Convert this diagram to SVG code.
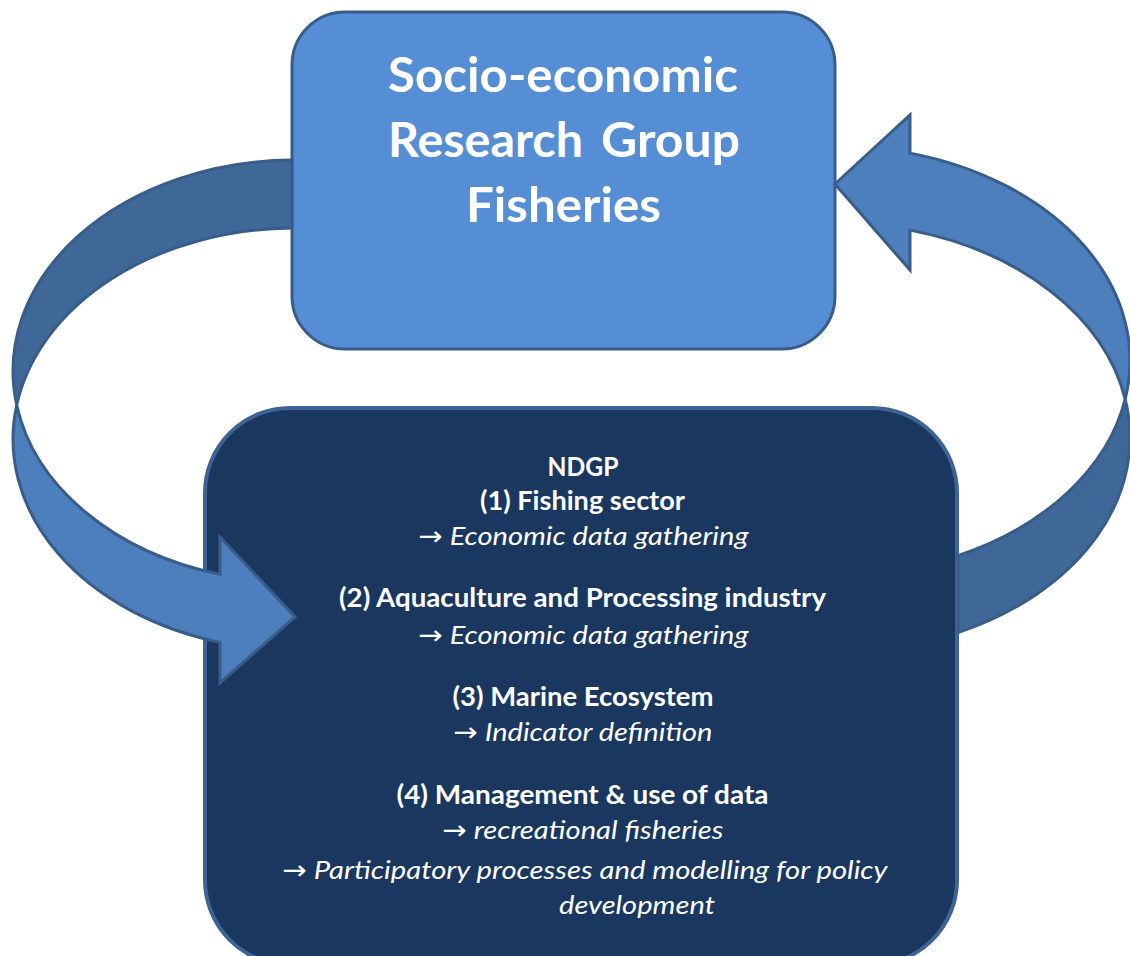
<svg xmlns="http://www.w3.org/2000/svg" width="1130" height="956" viewBox="0 0 1130 956">
  <style>
    .box-top { fill: #558ed5; stroke: #385d8a; stroke-width: 3; }
    .box-bot { fill: #1a375f; stroke: #3d6494; stroke-width: 4; }
    .back { fill: #3f6797; stroke: #385d8a; stroke-width: 3; stroke-linejoin: miter; }
    .front { fill: #4d7fbc; stroke: #385d8a; stroke-width: 3; stroke-linejoin: miter; }
    .title { font-family: Lato, "Liberation Sans", sans-serif; font-weight: 700; font-size: 47px; fill: #ffffff; }
    .hb { font-family: Lato, "Liberation Sans", sans-serif; font-weight: 700; font-size: 26px; fill: #ffffff; }
    .it { font-family: Lato, "Liberation Sans", sans-serif; font-style: italic; font-weight: 400; font-size: 26px; fill: #ffffff; }
    .arr { font-family: "DejaVu Sans", sans-serif; font-style: normal; }
  </style>
  <rect width="1130" height="956" fill="#ffffff"/>

  <g id="top-box">
    <rect class="box-top" x="292" y="12" width="543" height="337" rx="53" ry="53"/>
    <text class="title" x="388" y="92" textLength="350" lengthAdjust="spacingAndGlyphs">Socio-economic</text>
    <text class="title" y="157"><tspan x="388" textLength="195" lengthAdjust="spacingAndGlyphs">Research</tspan><tspan x="601" textLength="139" lengthAdjust="spacingAndGlyphs">Group</tspan></text>
    <text class="title" x="466" y="222" textLength="195" lengthAdjust="spacingAndGlyphs">Fisheries</text>
  </g>

  <g id="bottom-box">
    <rect class="box-bot" x="205" y="408" width="752" height="557" rx="85" ry="85"/>
    <text class="hb" x="547.5" y="476" textLength="71" lengthAdjust="spacingAndGlyphs">NDGP</text>
    <text class="hb" x="480" y="510" textLength="205" lengthAdjust="spacingAndGlyphs">(1) Fishing sector</text>
    <text class="it" x="418.5" y="545" textLength="330" lengthAdjust="spacingAndGlyphs"><tspan class="arr">→</tspan> Economic data gathering</text>
    <text class="hb" x="339" y="607" textLength="487" lengthAdjust="spacingAndGlyphs">(2) Aquaculture and Processing industry</text>
    <text class="it" x="418.5" y="644" textLength="330" lengthAdjust="spacingAndGlyphs"><tspan class="arr">→</tspan> Economic data gathering</text>
    <text class="hb" x="452.5" y="706" textLength="261" lengthAdjust="spacingAndGlyphs">(3) Marine Ecosystem</text>
    <text class="it" x="453.5" y="741" textLength="259" lengthAdjust="spacingAndGlyphs"><tspan class="arr">→</tspan> Indicator definition</text>
    <text class="hb" x="396.5" y="804" textLength="372" lengthAdjust="spacingAndGlyphs">(4) Management &amp; use of data</text>
    <text class="it" x="442.5" y="839" textLength="281" lengthAdjust="spacingAndGlyphs"><tspan class="arr">→</tspan> recreational fisheries</text>
    <text class="it" x="282.5" y="879" textLength="605" lengthAdjust="spacingAndGlyphs"><tspan class="arr">→</tspan> Participatory processes and modelling for policy</text>
    <text class="it" x="559" y="914" textLength="156" lengthAdjust="spacingAndGlyphs">development</text>
  </g>

  <g id="connectors">
    <g id="arrow-left">
      <path class="back" d="M 292 160 A 282 211 0 0 0 16.7 405 A 282 211 0 0 1 292 228 Z"/>
      <path class="front" d="M 16.7 405 A 282 211 0 0 0 220 574.4 L 220 537 L 295 617 L 220 683 L 220 642.4 A 282 211 0 0 1 16.7 405 Z"/>
    </g>
    <g id="arrow-right">
      <path class="back" d="M 958 632.6 A 295 214.6 0 0 0 1125.2 399.1 A 295 214.6 0 0 1 958 555.6 Z"/>
      <path class="front" d="M 1125.2 399.1 A 295 214.6 0 0 0 910 230.1 L 910 270 L 835 184 L 910 115 L 910 153.1 A 295 214.6 0 0 1 1125.2 399.1 Z"/>
    </g>
  </g>
</svg>
